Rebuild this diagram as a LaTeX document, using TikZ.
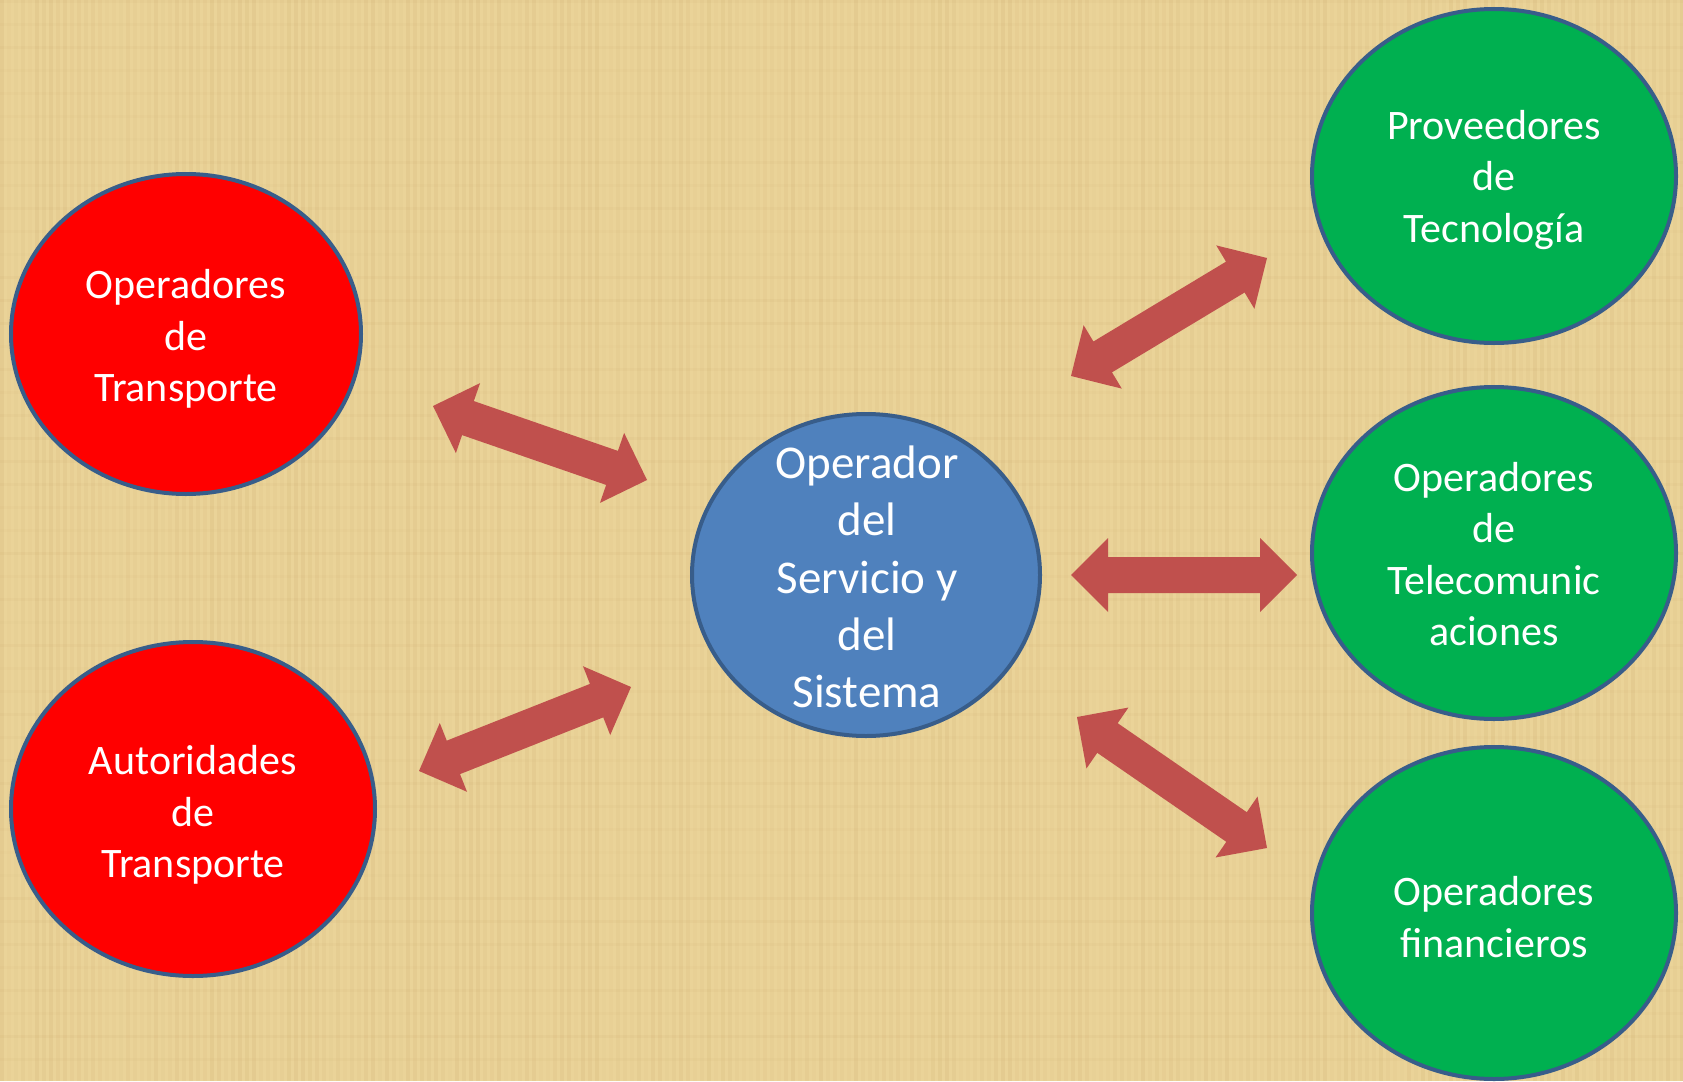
\documentclass[tikz,border=0pt]{standalone}
\usepackage{fontspec}
\setmainfont{Carlito}
\usetikzlibrary{shapes.geometric,calc}
\definecolor{bgpap}{RGB}{234,211,152}
\definecolor{streak}{RGB}{190,150,90}
\definecolor{redfill}{RGB}{255,0,0}
\definecolor{bluefill}{RGB}{79,129,189}
\definecolor{greenfill}{RGB}{0,176,80}
\definecolor{edgeblue}{RGB}{56,93,138}
\definecolor{arrowred}{RGB}{192,80,77}
\tikzset{
  bubble/.style={ellipse, draw=edgeblue, line width=4pt, inner sep=0pt},
  redbub/.style={bubble, fill=redfill},
  bluebub/.style={bubble, fill=bluefill},
  greenbub/.style={bubble, fill=greenfill},
  lbl/.style={text=white, align=center, font=\fontsize{42}{51.5}\selectfont},
  biglbl/.style={text=white, align=center, font=\fontsize{47}{57.4}\selectfont},
  darrow/.style={fill=arrowred, draw=none}
}
% block double arrow between two named coordinates
\newcommand\linkarrow[2]{%
  \coordinate (h1) at ($(#1)!37pt!(#2)$);
  \coordinate (h2) at ($(#2)!37pt!(#1)$);
  \fill[darrow] (#1) -- ($(h1)!37pt!90:(#2)$) -- ($(h1)!18pt!90:(#2)$)
    -- ($(h2)!18pt!-90:(#1)$) -- ($(h2)!37pt!-90:(#1)$) -- (#2)
    -- ($(h2)!37pt!90:(#1)$) -- ($(h2)!18pt!90:(#1)$)
    -- ($(h1)!18pt!-90:(#2)$) -- ($(h1)!37pt!-90:(#2)$) -- cycle;}
\begin{document}
\begin{tikzpicture}[x=1pt,y=-1pt]
\useasboundingbox (0,0) rectangle (1683,1081);
% papyrus-like background
\fill[bgpap] (0,0) rectangle (1683,1081);
\pgfmathsetseed{7}
\foreach \i in {0,7,...,1680}{
  \pgfmathsetmacro\op{0.03+0.10*rnd}
  \fill[streak, opacity=\op] (\i,0) rectangle (\i+4,1081);
}
\foreach \j in {0,23,...,1081}{
  \pgfmathsetmacro\op{0.02+0.06*rnd}
  \fill[streak, opacity=\op] (0,\j) rectangle (1683,\j+3);
}
% bubbles
\node[redbub, minimum width=350pt, minimum height=320pt] (ot) at (186,334) {};
\node[lbl] (otl) at (186,339) {Operadores\\de\\Transporte};
\node[redbub, minimum width=364pt, minimum height=334pt] (at) at (193,809) {};
\node[lbl] (atl) at (193,815) {Autoridades\\de\\Transporte};
\node[bluebub, minimum width=348pt, minimum height=322pt] (os) at (866,575) {};
\node[biglbl] (osl) at (867,577) {Operador\\del\\Servicio y\\del\\Sistema};
\node[greenbub, minimum width=364pt, minimum height=334pt] (pt) at (1494,176) {};
\node[lbl] (ptl) at (1494,180) {Proveedores\\de\\Tecnología};
\node[greenbub, minimum width=364pt, minimum height=332pt] (tc) at (1494,553) {};
\node[lbl] (tcl) at (1494,554) {Operadores\\de\\Telecomunic\\aciones};
\node[greenbub, minimum width=364pt, minimum height=332pt] (fi) at (1494,913) {};
\node[lbl] (fil) at (1494,917) {Operadores\\financieros};
% arrow end coordinates
\coordinate (a1s) at (433,406); \coordinate (a1e) at (647,480);
\coordinate (a2s) at (419,771); \coordinate (a2e) at (631,687);
\coordinate (a3s) at (1071,376); \coordinate (a3e) at (1267,258);
\coordinate (a4s) at (1071,575); \coordinate (a4e) at (1297,575);
\coordinate (a5s) at (1077,717); \coordinate (a5e) at (1267,848);
\linkarrow{a1s}{a1e}
\linkarrow{a2s}{a2e}
\linkarrow{a3s}{a3e}
\linkarrow{a4s}{a4e}
\linkarrow{a5s}{a5e}
\end{tikzpicture}
\end{document}
